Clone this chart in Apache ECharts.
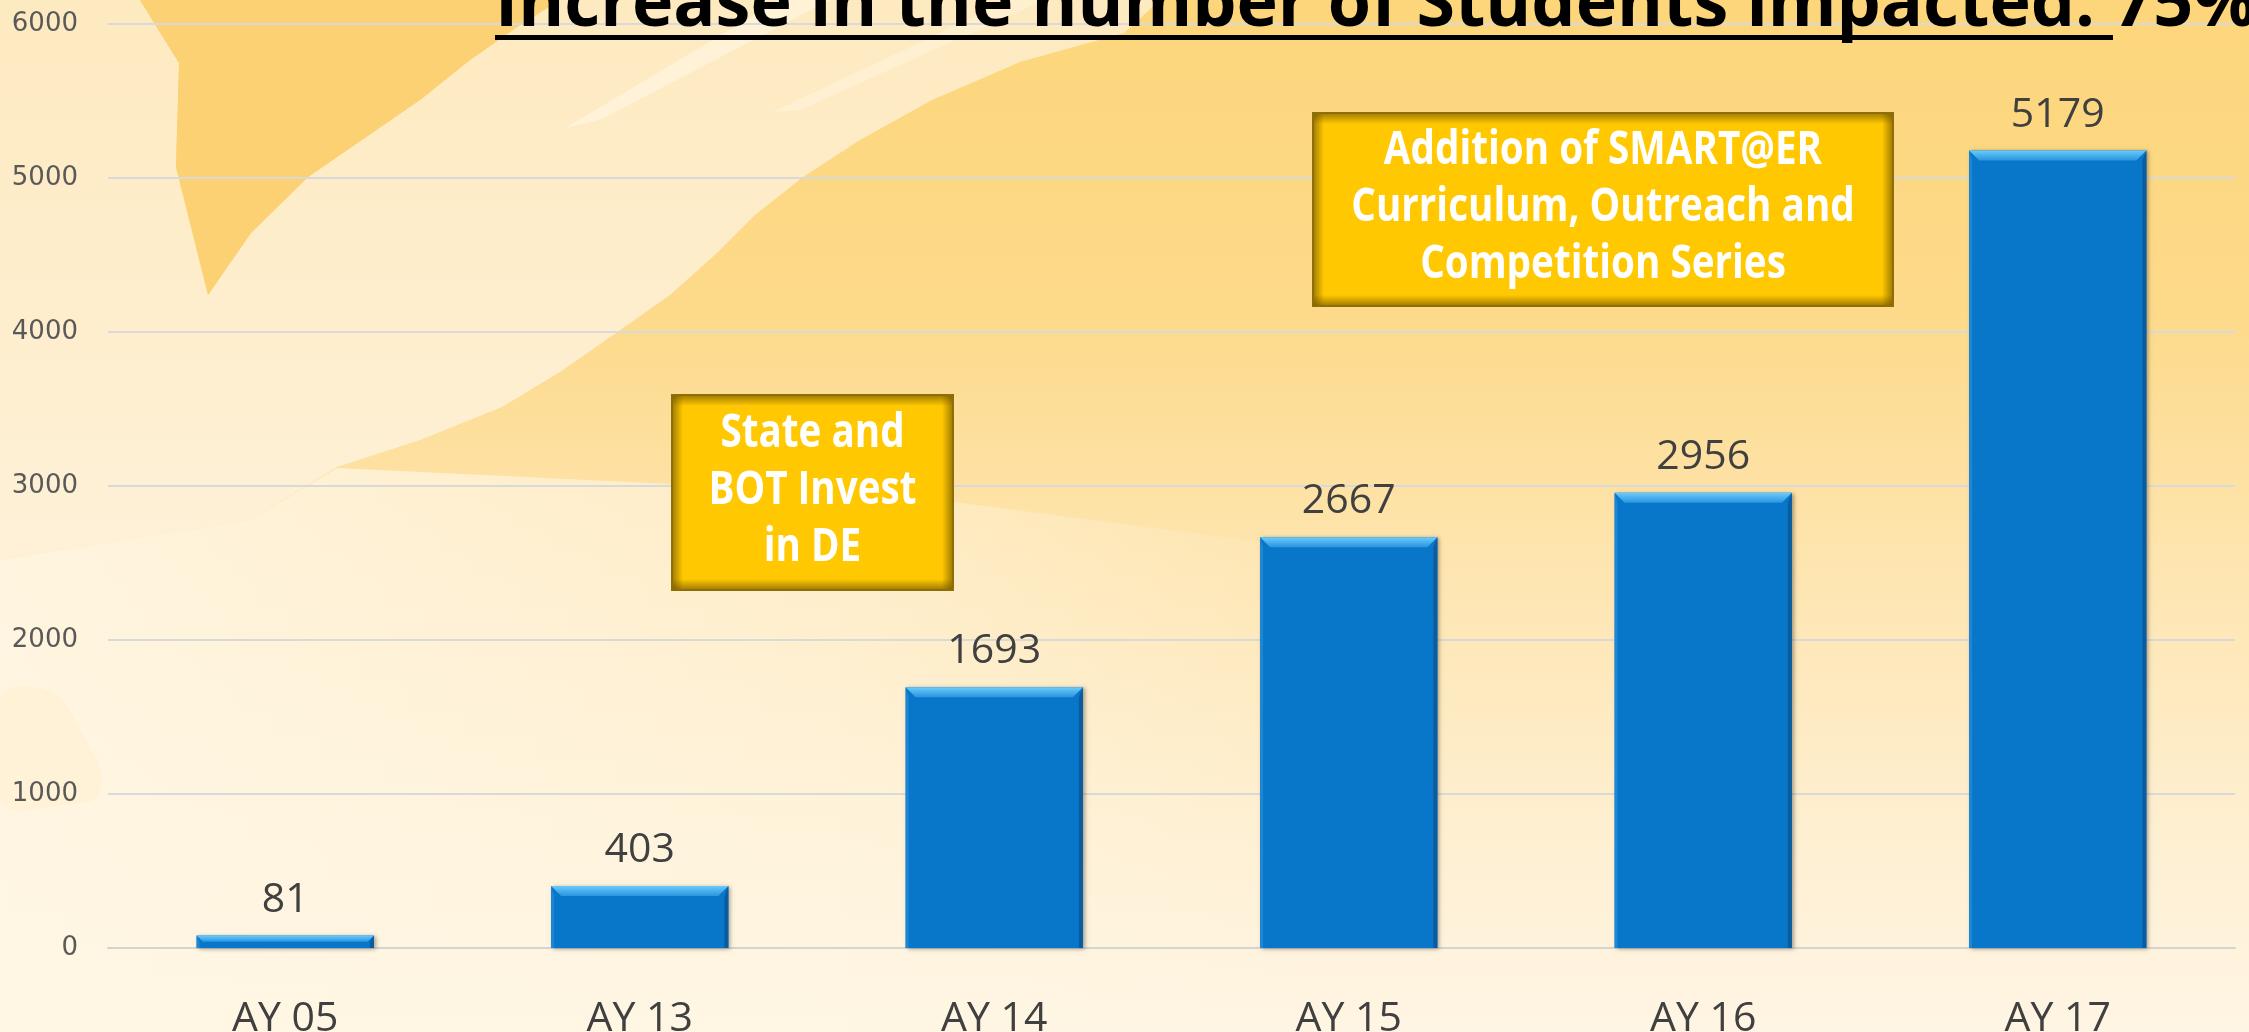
<!DOCTYPE html>
<html>
<head>
<meta charset="utf-8">
<title>Students impacted</title>
<script src="https://cdn.jsdelivr.net/npm/echarts@6/dist/echarts.min.js"></script>
<style>
  html, body { margin: 0; padding: 0; }
  #chart { width: 2249px; height: 1032px; }
</style>
</head>
<body>
<div id="chart"></div>
<script>
// data
var categories = ['AY 05', 'AY 13', 'AY 14', 'AY 15', 'AY 16', 'AY 17'];
var students = [81, 403, 1693, 2667, 2956, 5179];
var yMin = 0, yMax = 6000, yStep = 1000;

var titleText = 'Increase in the number of Students impacted: 75%';
var noteState = ['State and', 'BOT Invest', 'in DE'];
var noteSmart = ['Addition of SMART@ER', 'Curriculum, Outreach and', 'Competition Series'];

var chart = echarts.init(document.getElementById('chart'));

// gold call-out box with darker inner edges
function noteBox(x, y, w, h, lines) {
    var edge = 'rgba(110,82,0,0.6)', clear = 'rgba(110,82,0,0)';
    function grad(x1, y1, x2, y2) {
        return {type: 'linear', x: x1, y: y1, x2: x2, y2: y2,
            colorStops: [{offset: 0, color: edge}, {offset: 1, color: clear}]};
    }
    return {
        type: 'group', x: x, y: y, z: 50,
        children: [
            {type: 'rect', shape: {x: 0, y: 0, width: w, height: h}, style: {fill: '#8E6E0A'}, z: 50},
            {type: 'rect', shape: {x: 2, y: 2, width: w - 4, height: h - 4}, style: {fill: '#FFC800'}, z: 51},
            {type: 'rect', shape: {x: 2, y: 2, width: w - 4, height: 10}, style: {fill: grad(0, 0, 0, 1)}, z: 52},
            {type: 'rect', shape: {x: 2, y: h - 12, width: w - 4, height: 10}, style: {fill: grad(0, 1, 0, 0)}, z: 52},
            {type: 'rect', shape: {x: 2, y: 2, width: 10, height: h - 4}, style: {fill: grad(0, 0, 1, 0)}, z: 52},
            {type: 'rect', shape: {x: w - 12, y: 2, width: 10, height: h - 4}, style: {fill: grad(1, 0, 0, 0)}, z: 52},
            {
                type: 'text', x: w / 2, y: h / 2 - 2, scaleX: 0.84, z: 53,
                style: {
                    text: lines.join('\n'), fill: '#ffffff',
                    font: 'bold 46px "Open Sans"', lineHeight: 57,
                    align: 'center', verticalAlign: 'middle'
                }
            }
        ]
    };
}

// bevel highlight on top of every bar
function renderBevel(params, api) {
    var idx = api.value(0), val = api.value(1);
    var top = api.coord([idx, val]);
    var base = api.coord([idx, 0]);
    var bw = api.size([1, 0])[0] * 0.5;
    var x0 = top[0] - bw / 2, x1 = top[0] + bw / 2, y0 = top[1], y1 = base[1];
    var b = Math.min(10, (y1 - y0) / 2);
    return {
        type: 'group',
        children: [
            {type: 'polygon', shape: {points: [[x0, y0], [x1, y0], [x1 - b, y0 + b], [x0 + b, y0 + b]]},
             style: {fill: {type: 'linear', x: 0, y: 0, x2: 0, y2: 1,
                 colorStops: [{offset: 0, color: '#6ACBFB'}, {offset: 1, color: '#2A95DF'}]}}},
            {type: 'polygon', shape: {points: [[x1, y0], [x1, y1], [x1 - 4, y1], [x1 - 4, y0 + b]]},
             style: {fill: '#0A5C9F'}},
            {type: 'polygon', shape: {points: [[x0, y0], [x0 + 3, y0 + b], [x0 + 3, y1], [x0, y1]]},
             style: {fill: '#1F86D3'}}
        ]
    };
}

var bgShapes = [
    // base wash
    {type: 'rect', z: -100, shape: {x: 0, y: 0, width: 2249, height: 1032},
     style: {fill: {type: 'linear', x: 0, y: 0, x2: 0, y2: 1, colorStops: [
         {offset: 0, color: '#FDD67B'}, {offset: 0.3, color: '#FDDA8A'},
         {offset: 0.55, color: '#FEE5B0'}, {offset: 0.8, color: '#FEEFD0'},
         {offset: 1, color: '#FFF5E4'}]}}},
    // cream left column and swoosh
    {type: 'polygon', z: -99, shape: {points: [
        [0, 0], [140, 0], [179, 63], [176, 167], [208, 295], [251, 233], [308, 177], [420, 100],
        [470, 60], [520, 25], [560, 0], [1160, 0], [1124, 33], [1020, 62], [932, 100], [860, 140],
        [803, 177], [755, 215], [717, 253], [670, 295], [616, 333], [560, 372], [502, 407],
        [420, 440], [337, 467], [250, 520], [0, 560]]},
     style: {fill: {type: 'linear', x: 0, y: 0, x2: 0, y2: 1, colorStops: [
         {offset: 0, color: '#FEEAC0'}, {offset: 1, color: '#FEF1D8'}]}}},
    // orange wedge
    {type: 'polygon', z: -98, shape: {points: [
        [140, 0], [560, 0], [520, 25], [470, 60], [420, 100], [308, 177], [251, 233], [208, 295],
        [176, 167], [179, 63]]},
     style: {fill: '#FCD173'}},
    // light streaks near the title
    {type: 'polygon', z: -97, shape: {points: [[780, 0], [830, 0], [600, 120], [565, 128]]},
     style: {fill: 'rgba(255,250,235,0.5)'}},
    {type: 'polygon', z: -97, shape: {points: [[1010, 0], [1045, 0], [800, 110], [772, 112]]},
     style: {fill: 'rgba(255,250,235,0.35)'}},
    // pale lower left
    {type: 'polygon', z: -96, shape: {points: [
        [0, 560], [250, 520], [337, 468], [900, 495], [1400, 560], [1400, 1032], [0, 1032]]},
     style: {fill: {type: 'linear', x: 0, y: 0, x2: 1, y2: 0, colorStops: [
         {offset: 0, color: 'rgba(255,246,228,0.9)'}, {offset: 0.6, color: 'rgba(255,246,228,0.5)'},
         {offset: 1, color: 'rgba(255,246,228,0)'}]}}},
    // faint blob bottom left
    {type: 'polygon', z: -95, shape: {smooth: 0.5, points: [
        [0, 700], [45, 690], [80, 730], [100, 790], [60, 805], [0, 800]]},
     style: {fill: 'rgba(253,214,130,0.1)'}}
];

var option = {
    animation: false,
    grid: {left: 108, right: 14, top: 24, bottom: 84, containLabel: false, outerBoundsMode: 'none'},
    xAxis: {
        type: 'category',
        data: categories,
        axisLine: {lineStyle: {color: '#D4D4D4', width: 2}},
        axisTick: {show: false},
        axisLabel: {fontSize: 41, color: '#404040', fontFamily: 'Open Sans', margin: 51}
    },
    yAxis: {
        type: 'value',
        min: yMin, max: yMax, interval: yStep,
        axisLine: {show: false},
        axisTick: {show: false},
        axisLabel: {
            fontSize: 26, color: '#595959', fontFamily: 'DejaVu Sans', margin: 30,
            formatter: function (v) { return String(v); }
        },
        splitLine: {lineStyle: {color: '#D9D9D9', width: 2}}
    },
    series: [
        {
            type: 'bar',
            data: students,
            barWidth: '50%',
            z: 2,
            itemStyle: {
                color: '#0876C9',
                shadowBlur: 4, shadowColor: 'rgba(0,0,0,0.35)',
                shadowOffsetX: 2, shadowOffsetY: 1
            },
            label: {
                show: true, position: 'top', distance: 15,
                fontSize: 41, color: '#404040', fontFamily: 'Open Sans'
            }
        },
        {
            type: 'custom',
            z: 3,
            silent: true,
            renderItem: renderBevel,
            data: students.map(function (v, i) { return [i, v]; })
        }
    ],
    graphic: bgShapes.concat([
        noteBox(671, 394, 283, 197, noteState),
        noteBox(1312, 112, 582, 195, noteSmart),
        {
            type: 'text', x: 495, y: 6, z: 100,
            style: {text: titleText, fill: '#000000', font: 'bold 70px "Open Sans"', verticalAlign: 'middle'}
        },
        {type: 'rect', z: 100, shape: {x: 495, y: 35, width: 1618, height: 5}, style: {fill: '#000000'}}
    ])
};
chart.setOption(option);
</script>
</body>
</html>
